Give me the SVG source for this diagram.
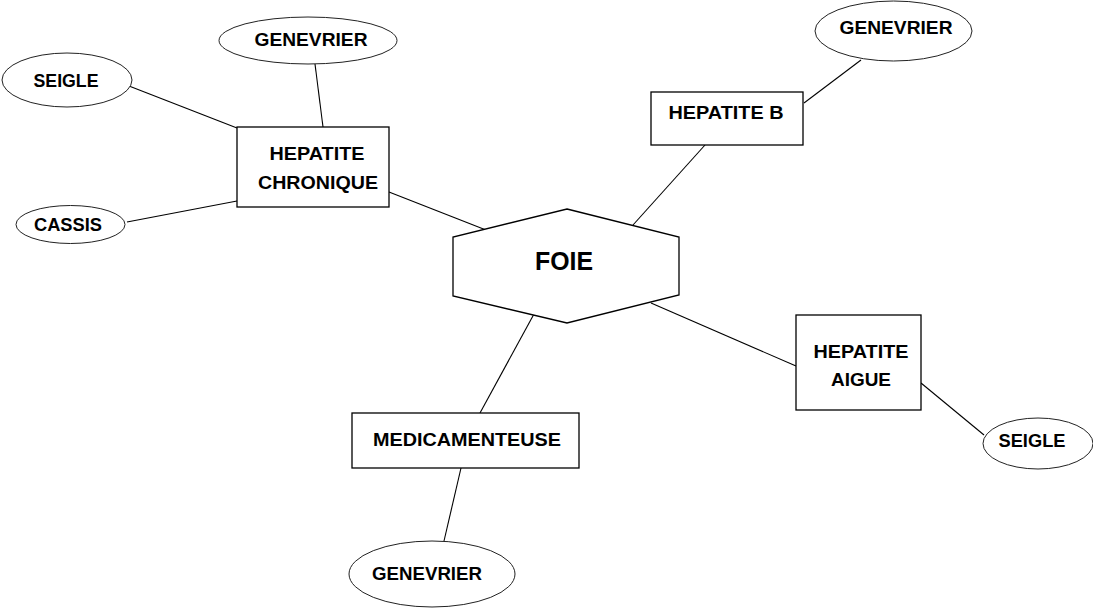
<svg xmlns="http://www.w3.org/2000/svg" width="1093" height="608" viewBox="0 0 1093 608">
<style>
.bg{fill:#fff}
.box{fill:#fff;stroke:#000;stroke-width:1.3}
.ell{fill:#fff;stroke:#222;stroke-width:1}
.ln{stroke:#000;stroke-width:1.1;fill:none}
text{font-family:"Liberation Sans",Arial,sans-serif;font-weight:bold;font-size:18px;fill:#000;text-anchor:middle}
.big{font-size:26px}
</style>
<rect class="bg" x="0" y="0" width="1093" height="608"/>
<g id="connectors">
<line class="ln" x1="389" y1="192" x2="486" y2="230"/>
<line class="ln" x1="129" y1="86" x2="237" y2="128"/>
<line class="ln" x1="315" y1="64" x2="323" y2="127"/>
<line class="ln" x1="127" y1="222" x2="237" y2="201"/>
<line class="ln" x1="705" y1="145" x2="633" y2="225"/>
<line class="ln" x1="861" y1="60" x2="804" y2="103"/>
<line class="ln" x1="534" y1="314" x2="480" y2="413"/>
<line class="ln" x1="461" y1="468" x2="444" y2="541"/>
<line class="ln" x1="651" y1="303" x2="796" y2="366"/>
<line class="ln" x1="921" y1="383" x2="984" y2="435"/>
</g>
<g id="foie">
<polygon class="box" points="567,209 679,237 679,295 567,323 453,296 453,237"/>
<text class="big" x="564" y="270" textLength="58" lengthAdjust="spacingAndGlyphs">FOIE</text>
</g>
<g id="hepatite-chronique">
<rect class="box" x="237" y="127" width="152" height="80"/>
<text x="317" y="160" textLength="95" lengthAdjust="spacingAndGlyphs">HEPATITE</text>
<text x="318" y="189" textLength="120" lengthAdjust="spacingAndGlyphs">CHRONIQUE</text>
</g>
<g id="genevrier-1">
<ellipse class="ell" cx="308" cy="40.5" rx="89" ry="23.5"/>
<text x="311" y="46" textLength="113" lengthAdjust="spacingAndGlyphs">GENEVRIER</text>
</g>
<g id="seigle-1">
<ellipse class="ell" cx="67" cy="80" rx="65" ry="27"/>
<text x="66" y="87" textLength="65" lengthAdjust="spacingAndGlyphs">SEIGLE</text>
</g>
<g id="cassis">
<ellipse class="ell" cx="70.5" cy="224.5" rx="54.5" ry="19"/>
<text x="68" y="231" textLength="68" lengthAdjust="spacingAndGlyphs">CASSIS</text>
</g>
<g id="hepatite-b">
<rect class="box" x="651" y="92" width="152" height="53"/>
<text x="726" y="119" textLength="115" lengthAdjust="spacingAndGlyphs">HEPATITE B</text>
</g>
<g id="genevrier-2">
<ellipse class="ell" cx="893.5" cy="31" rx="78.5" ry="30"/>
<text x="896" y="34" textLength="113" lengthAdjust="spacingAndGlyphs">GENEVRIER</text>
</g>
<g id="medicamenteuse">
<rect class="box" x="352" y="413" width="227" height="55"/>
<text x="467" y="446" textLength="188" lengthAdjust="spacingAndGlyphs">MEDICAMENTEUSE</text>
</g>
<g id="genevrier-3">
<ellipse class="ell" cx="432" cy="574" rx="83" ry="33"/>
<text x="427" y="580" textLength="110" lengthAdjust="spacingAndGlyphs">GENEVRIER</text>
</g>
<g id="hepatite-aigue">
<rect class="box" x="796" y="315" width="125" height="95"/>
<text x="861" y="358" textLength="95" lengthAdjust="spacingAndGlyphs">HEPATITE</text>
<text x="861" y="386" textLength="60" lengthAdjust="spacingAndGlyphs">AIGUE</text>
</g>
<g id="seigle-2">
<ellipse class="ell" cx="1038" cy="443.5" rx="55" ry="25.5"/>
<text x="1032" y="447" textLength="67" lengthAdjust="spacingAndGlyphs">SEIGLE</text>
</g>
</svg>
